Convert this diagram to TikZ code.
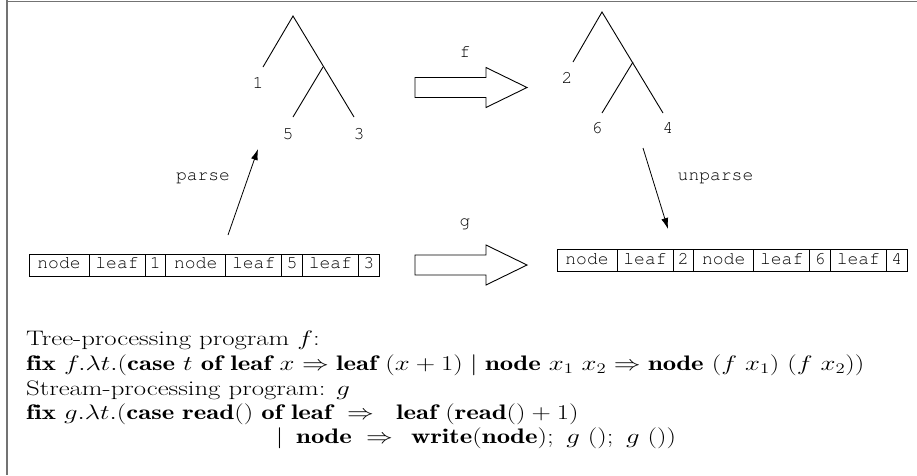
\RequirePackage{fix-cm}
\documentclass[tikz,border=0pt]{standalone}
\usepackage{fontspec}
\newcommand{\courtt}{\fontencoding{T1}\fontfamily{pcr}\fontseries{m}\fontshape{n}\fontsize{18}{18}\selectfont}
\newcommand{\wide}[1]{\scalebox{1.275}[1]{#1}}
\usetikzlibrary{arrows.meta}
\begin{document}
\begin{tikzpicture}[x=1pt,y=-1pt,
  tt/.style={font=\courtt, inner sep=0pt, anchor=base},
  cell/.style={draw, line width=0.8pt, minimum height=22pt, inner sep=0pt, outer sep=0pt,
    text height=11pt, text depth=4pt, font=\courtt, anchor=west},
  nodecell/.style={cell, minimum width=60pt},
  leafcell/.style={cell, minimum width=56pt},
  numcell/.style={cell, minimum width=20.7pt},
  branch/.style={line width=0.9pt},
  frameline/.style={draw=black!55, line width=1.6pt},
  bigarrow/.style={draw, line width=0.9pt, line join=miter},
  thinarrow/.style={line width=0.8pt, -{Latex[length=11pt,width=7pt]}},
  txt/.style={anchor=base west, inner sep=0pt, font=\fontsize{21}{25}\selectfont}]

\useasboundingbox (0,0) rectangle (917,475);
\draw[frameline] (7,0) -- (7,475);
\draw[frameline] (6.2,1.5) -- (917,1.5);

% left tree
\coordinate (LA) at (293,16);
\coordinate (L1) at (263,67);
\coordinate (LI) at (323,67);
\coordinate (L3) at (354,117);
\coordinate (L5) at (293,117);
\draw[branch] (L1) -- (LA) -- (L3);
\draw[branch] (LI) -- (L5);
\node[tt] (t1) at (258,88) {1};
\node[tt] (t5) at (288,139) {5};
\node[tt] (t3) at (359,139) {3};

% right tree
\coordinate (RA) at (602,12);
\coordinate (R2) at (573,62);
\coordinate (RI) at (633,62);
\coordinate (R4) at (663,113);
\coordinate (R6) at (602,113);
\draw[branch] (R2) -- (RA) -- (R4);
\draw[branch] (RI) -- (R6);
\node[tt] (t2) at (567,83) {2};
\node[tt] (t6) at (597,133) {6};
\node[tt] (t4) at (668,133) {4};

% big arrows
\draw[bigarrow] (415,77.5) -- (486,77.5) -- (486,67.5) -- (527,87.5) -- (486,107.5) -- (486,97.5) -- (415,97.5) -- cycle;
\draw[bigarrow] (415,255) -- (486,255) -- (486,245) -- (527,265) -- (486,285) -- (486,275) -- (415,275) -- cycle;
\node[tt] (flab) at (465,57) {f};
\node[tt] (glab) at (465,226) {g};

% left stream
\node[nodecell] (a1) at (29,265) {node};
\node[leafcell] (a2) at (a1.east) {leaf};
\node[numcell] (a3) at (a2.east) {1};
\node[nodecell] (a4) at (a3.east) {node};
\node[leafcell] (a5) at (a4.east) {leaf};
\node[numcell] (a6) at (a5.east) {5};
\node[leafcell] (a7) at (a6.east) {leaf};
\node[numcell] (a8) at (a7.east) {3};

% right stream
\node[nodecell] (b1) at (557,260.5) {node};
\node[leafcell] (b2) at (b1.east) {leaf};
\node[numcell] (b3) at (b2.east) {2};
\node[nodecell] (b4) at (b3.east) {node};
\node[leafcell] (b5) at (b4.east) {leaf};
\node[numcell] (b6) at (b5.east) {6};
\node[leafcell] (b7) at (b6.east) {leaf};
\node[numcell] (b8) at (b7.east) {4};

% parse / unparse
\coordinate (ps) at (228,235);
\coordinate (pe) at (258,149);
\draw[thinarrow] (ps) -- (pe);
\node[tt] (parselab) at (203,180) {parse};
\coordinate (us) at (643,148);
\coordinate (ue) at (668,229);
\draw[thinarrow] (us) -- (ue);
\node[tt] (unparselab) at (715.5,180) {unparse};

% program text
\node[txt] (l1) at (26,345) {\wide{Tree-processing program $f$:}};
\node[txt] (l2) at (26,370) {\wide{$\mathbf{fix}\ f.\lambda t.(\mathbf{case}\ t\ \mathbf{of}\ \mathbf{leaf}\ x \Rightarrow \mathbf{leaf}\ (x+1) \mid \mathbf{node}\ x_1\ x_2 \Rightarrow \mathbf{node}\ (f\ x_1)\ (f\ x_2))$}};
\node[txt] (l3) at (26,395) {\wide{Stream-processing program: $g$}};
\node[txt] (l4) at (26,419) {\wide{$\mathbf{fix}\ g.\lambda t.(\mathbf{case}\ \mathbf{read}()\ \mathbf{of}\ \mathbf{leaf}\;\Rightarrow\;\;\mathbf{leaf}\ (\mathbf{read}()+1)$}};
\node[txt] (l5a) at (275.6,443) {\wide{$\mid$}};
\node[txt] (l5b) at (296,443) {\wide{$\mathbf{node}$}};
\node[txt] (l5c) at (366,443) {\wide{$\Rightarrow$}};
\node[txt] (l5d) at (411,443) {\wide{$\mathbf{write}(\mathbf{node});\ g\ ();\ g\ ())$}};
\end{tikzpicture}
\end{document}
